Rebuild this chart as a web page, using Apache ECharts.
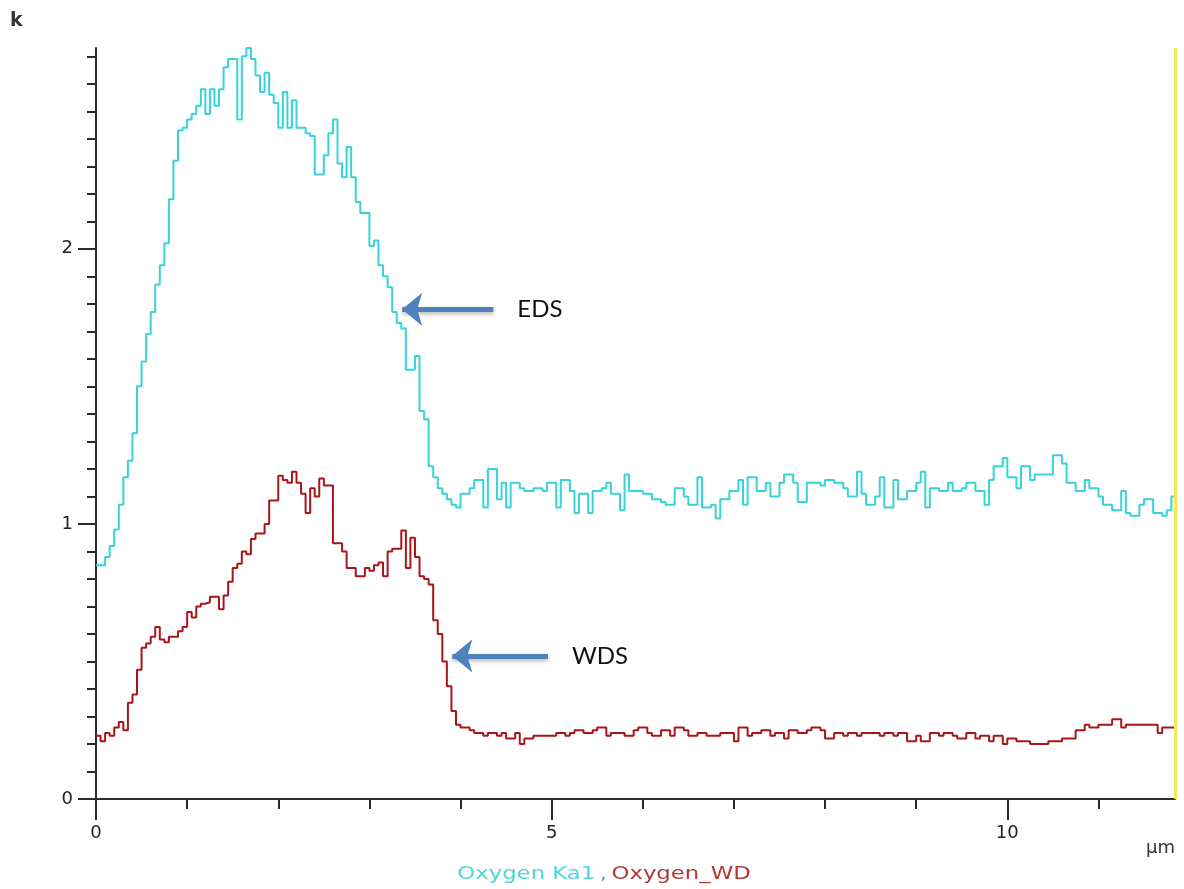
<!DOCTYPE html>
<html>
<head>
<meta charset="utf-8">
<script src="https://cdn.jsdelivr.net/npm/echarts@6/dist/echarts.min.js"></script>
<style>
  html, body { margin: 0; padding: 0; background: #ffffff; }
  #chart { width: 1184px; height: 889px; }
</style>
</head>
<body>
<div id="chart"></div>
<script>
// Line scan of oxygen signal (k counts) versus distance (µm), EDS vs WDS.
const binWidth = 0.05;   // µm per channel of the scan
const xMax = 11.84;      // scan length, µm
const yMax = 2.73;       // top of the count axis, k

// EDS channel: Oxygen Ka1 (k counts per channel)
const edsCounts = [
  0.85, 0.85, 0.88, 0.92, 0.98, 1.07, 1.17, 1.23, 1.33, 1.50,
  1.59, 1.69, 1.77, 1.87, 1.94, 2.02, 2.18, 2.32, 2.43, 2.44,
  2.47, 2.49, 2.52, 2.58, 2.49, 2.58, 2.52, 2.58, 2.66, 2.69,
  2.69, 2.47, 2.70, 2.73, 2.69, 2.63, 2.57, 2.64, 2.56, 2.53,
  2.44, 2.57, 2.44, 2.54, 2.44, 2.44, 2.42, 2.41, 2.27, 2.27,
  2.34, 2.42, 2.47, 2.31, 2.26, 2.37, 2.26, 2.17, 2.13, 2.13,
  2.01, 2.03, 1.94, 1.90, 1.86, 1.77, 1.73, 1.71, 1.56, 1.56,
  1.61, 1.41, 1.38, 1.21, 1.17, 1.13, 1.11, 1.09, 1.07, 1.06,
  1.11, 1.11, 1.13, 1.16, 1.16, 1.06, 1.20, 1.20, 1.09, 1.15,
  1.06, 1.15, 1.15, 1.13, 1.12, 1.12, 1.13, 1.13, 1.12, 1.15,
  1.15, 1.06, 1.16, 1.16, 1.12, 1.04, 1.11, 1.11, 1.04, 1.12,
  1.12, 1.13, 1.15, 1.11, 1.11, 1.05, 1.18, 1.12, 1.12, 1.12,
  1.11, 1.11, 1.09, 1.09, 1.08, 1.07, 1.07, 1.13, 1.13, 1.10,
  1.07, 1.07, 1.17, 1.06, 1.06, 1.07, 1.02, 1.09, 1.09, 1.12,
  1.12, 1.16, 1.07, 1.17, 1.17, 1.12, 1.12, 1.15, 1.10, 1.10,
  1.15, 1.18, 1.18, 1.15, 1.08, 1.08, 1.15, 1.15, 1.15, 1.14,
  1.16, 1.16, 1.15, 1.15, 1.13, 1.10, 1.10, 1.19, 1.11, 1.07,
  1.07, 1.10, 1.17, 1.06, 1.06, 1.16, 1.09, 1.09, 1.12, 1.12,
  1.15, 1.19, 1.06, 1.13, 1.13, 1.12, 1.12, 1.15, 1.12, 1.12,
  1.13, 1.15, 1.15, 1.12, 1.12, 1.07, 1.16, 1.21, 1.21, 1.24,
  1.17, 1.17, 1.13, 1.21, 1.21, 1.16, 1.18, 1.18, 1.18, 1.18,
  1.25, 1.25, 1.22, 1.15, 1.15, 1.12, 1.12, 1.16, 1.13, 1.13,
  1.10, 1.07, 1.07, 1.05, 1.05, 1.12, 1.04, 1.03, 1.03, 1.07,
  1.09, 1.09, 1.04, 1.04, 1.03, 1.05, 1.10
];

// WDS channel: Oxygen_WD (k counts per channel)
const wdsCounts = [
  0.23, 0.21, 0.24, 0.23, 0.26, 0.28, 0.25, 0.35, 0.38, 0.47,
  0.55, 0.565, 0.59, 0.625, 0.58, 0.57, 0.59, 0.59, 0.61, 0.625,
  0.68, 0.66, 0.70, 0.71, 0.715, 0.735, 0.735, 0.69, 0.74, 0.79,
  0.84, 0.855, 0.90, 0.89, 0.945, 0.965, 0.965, 1.00, 1.085, 1.085,
  1.175, 1.16, 1.15, 1.19, 1.15, 1.11, 1.04, 1.13, 1.10, 1.165,
  1.14, 1.14, 0.93, 0.93, 0.90, 0.84, 0.84, 0.81, 0.81, 0.84,
  0.83, 0.85, 0.86, 0.81, 0.90, 0.91, 0.91, 0.976, 0.84, 0.95,
  0.88, 0.81, 0.80, 0.78, 0.65, 0.60, 0.50, 0.41, 0.32, 0.27,
  0.26, 0.26, 0.25, 0.24, 0.24, 0.23, 0.24, 0.24, 0.23, 0.24,
  0.22, 0.22, 0.24, 0.20, 0.22, 0.22, 0.23, 0.23, 0.23, 0.23,
  0.23, 0.24, 0.24, 0.23, 0.24, 0.25, 0.25, 0.24, 0.24, 0.25,
  0.26, 0.26, 0.23, 0.24, 0.24, 0.24, 0.23, 0.23, 0.25, 0.26,
  0.26, 0.24, 0.23, 0.23, 0.25, 0.25, 0.23, 0.26, 0.26, 0.25,
  0.23, 0.23, 0.24, 0.24, 0.23, 0.23, 0.23, 0.24, 0.24, 0.24,
  0.21, 0.26, 0.26, 0.23, 0.24, 0.24, 0.25, 0.25, 0.23, 0.24,
  0.24, 0.22, 0.25, 0.25, 0.24, 0.24, 0.25, 0.26, 0.26, 0.25,
  0.22, 0.22, 0.24, 0.24, 0.23, 0.24, 0.24, 0.23, 0.24, 0.24,
  0.24, 0.24, 0.23, 0.24, 0.24, 0.23, 0.24, 0.24, 0.21, 0.21,
  0.23, 0.21, 0.21, 0.24, 0.24, 0.23, 0.24, 0.24, 0.23, 0.22,
  0.22, 0.24, 0.24, 0.22, 0.23, 0.23, 0.21, 0.23, 0.23, 0.20,
  0.22, 0.22, 0.21, 0.21, 0.21, 0.20, 0.20, 0.20, 0.20, 0.21,
  0.21, 0.21, 0.22, 0.22, 0.22, 0.25, 0.25, 0.27, 0.26, 0.26,
  0.27, 0.27, 0.27, 0.29, 0.29, 0.26, 0.27, 0.27, 0.27, 0.27,
  0.27, 0.27, 0.27, 0.24, 0.26, 0.26, 0.26
];

// Axis ticks
const xMajorTicks = [0, 5, 10];
const xMinorTicks = [0, 1, 2, 3, 4, 5, 6, 7, 8, 9, 10, 11];
const yMajorTicks = [0, 1, 2];
const yMinorTicks = [0, 0.1, 0.2, 0.3, 0.4, 0.5, 0.6, 0.7, 0.8, 0.9,
                     1, 1.1, 1.2, 1.3, 1.4, 1.5, 1.6, 1.7, 1.8, 1.9,
                     2, 2.1, 2.2, 2.3, 2.4, 2.5, 2.6, 2.7];

// Arrow annotations: [tail, tip] in (µm, k) plus label
const edsArrow = { label: 'EDS', tail: [4.36, 1.78], tip: [3.36, 1.78] };
const wdsArrow = { label: 'WDS', tail: [4.96, 0.52], tip: [3.91, 0.52] };

const seriesNames = ['Oxygen Ka1', 'Oxygen_WD'];
const edsColor = '#36d4da';
const wdsColor = '#a8161b';
const axisColor = '#2b2b2b';
const arrowColor = '#4f81bd';

// Histogram-style steps: each channel holds its value across its width
function toSteps(values) {
  const pts = values.map((v, i) => [+(i * binWidth).toFixed(2), v]);
  pts.push([xMax, values[values.length - 1]]);
  return pts;
}

function arrowLine(a) {
  return [
    { coord: a.tail, name: a.label },
    { coord: a.tip }
  ];
}

const arrowMarkStyle = {
  silent: true,
  animation: false,
  symbol: ['none', 'arrow'],
  symbolSize: [25, 20],
  lineStyle: {
    color: arrowColor, width: 5, type: 'solid',
    shadowBlur: 4, shadowColor: 'rgba(0,0,0,0.3)', shadowOffsetY: 2
  },
  label: {
    show: true, position: 'start', distance: 24,
    formatter: '{b}', color: '#111', fontFamily: 'Lato', fontSize: 24
  }
};

const tickLine = { color: axisColor, width: 2 };
const labelFont = { fontFamily: 'DejaVu Sans', fontSize: 18, color: '#222' };

const chart = echarts.init(document.getElementById('chart'), null, { renderer: 'canvas' });

chart.setOption({
  animation: false,
  backgroundColor: '#ffffff',
  grid: { left: 96, right: 9, top: 48, bottom: 90, containLabel: false },
  xAxis: [
    {
      type: 'value', min: 0, max: xMax, position: 'bottom',
      axisLine: { show: true, lineStyle: tickLine },
      axisTick: { show: true, customValues: xMinorTicks, length: 10, lineStyle: tickLine },
      axisLabel: { show: false },
      splitLine: { show: false }
    },
    {
      type: 'value', min: 0, max: xMax, position: 'bottom',
      axisLine: { show: false },
      axisTick: { show: true, customValues: xMajorTicks, length: 21, lineStyle: tickLine },
      axisLabel: Object.assign({ show: true, customValues: xMajorTicks, margin: 25 }, labelFont),
      splitLine: { show: false }
    }
  ],
  yAxis: [
    {
      type: 'value', min: 0, max: yMax, position: 'left',
      axisLine: { show: true, lineStyle: tickLine },
      axisTick: { show: true, customValues: yMinorTicks, length: 9, lineStyle: tickLine },
      axisLabel: { show: false },
      splitLine: { show: false }
    },
    {
      type: 'value', min: 0, max: yMax, position: 'left',
      axisLine: { show: false },
      axisTick: { show: true, customValues: yMajorTicks, length: 18, lineStyle: tickLine },
      axisLabel: Object.assign({ show: true, customValues: yMajorTicks, margin: 23 }, labelFont),
      splitLine: { show: false }
    }
  ],
  series: [
    {
      name: seriesNames[0], type: 'line', step: 'end',
      xAxisIndex: 0, yAxisIndex: 0,
      data: toSteps(edsCounts),
      symbol: 'none', clip: false,
      lineStyle: { color: edsColor, width: 2 },
      markLine: Object.assign({}, arrowMarkStyle, { data: [arrowLine(edsArrow)] }),
      z: 3
    },
    {
      name: seriesNames[1], type: 'line', step: 'end',
      xAxisIndex: 0, yAxisIndex: 0,
      data: toSteps(wdsCounts),
      symbol: 'none', clip: false,
      lineStyle: { color: wdsColor, width: 2 },
      markLine: Object.assign({}, arrowMarkStyle, { data: [arrowLine(wdsArrow)] }),
      z: 3
    },
    {
      // scan end cursor
      name: 'cursor', type: 'line', data: [],
      xAxisIndex: 0, yAxisIndex: 0,
      markLine: {
        silent: true, animation: false, symbol: 'none',
        label: { show: false },
        lineStyle: { color: '#ecec50', width: 3, type: 'solid' },
        data: [{ xAxis: xMax }]
      },
      z: 2
    }
  ],
  graphic: [
    {
      type: 'text', left: 10, top: 12,
      style: { text: 'k', fontFamily: 'DejaVu Sans', fontSize: 19, fontWeight: 'bold', fill: '#333' }
    },
    {
      type: 'text', right: 9, top: 839,
      style: { text: 'µm', fontFamily: 'DejaVu Sans', fontSize: 18, fill: '#333' }
    },
    {
      type: 'text', x: 604, y: 875, scaleX: 1.34,
      style: {
        text: '{a|' + seriesNames[0] + '} {c|,} {b|' + seriesNames[1] + '}',
        align: 'center', verticalAlign: 'middle',
        rich: {
          a: { fontFamily: 'DejaVu Sans', fontSize: 17, fill: '#4fd6d6' },
          c: { fontFamily: 'DejaVu Sans', fontSize: 17, fill: '#5aa8b0' },
          b: { fontFamily: 'DejaVu Sans', fontSize: 17, fill: '#b03a3a' }
        }
      }
    }
  ]
});
</script>
</body>
</html>
